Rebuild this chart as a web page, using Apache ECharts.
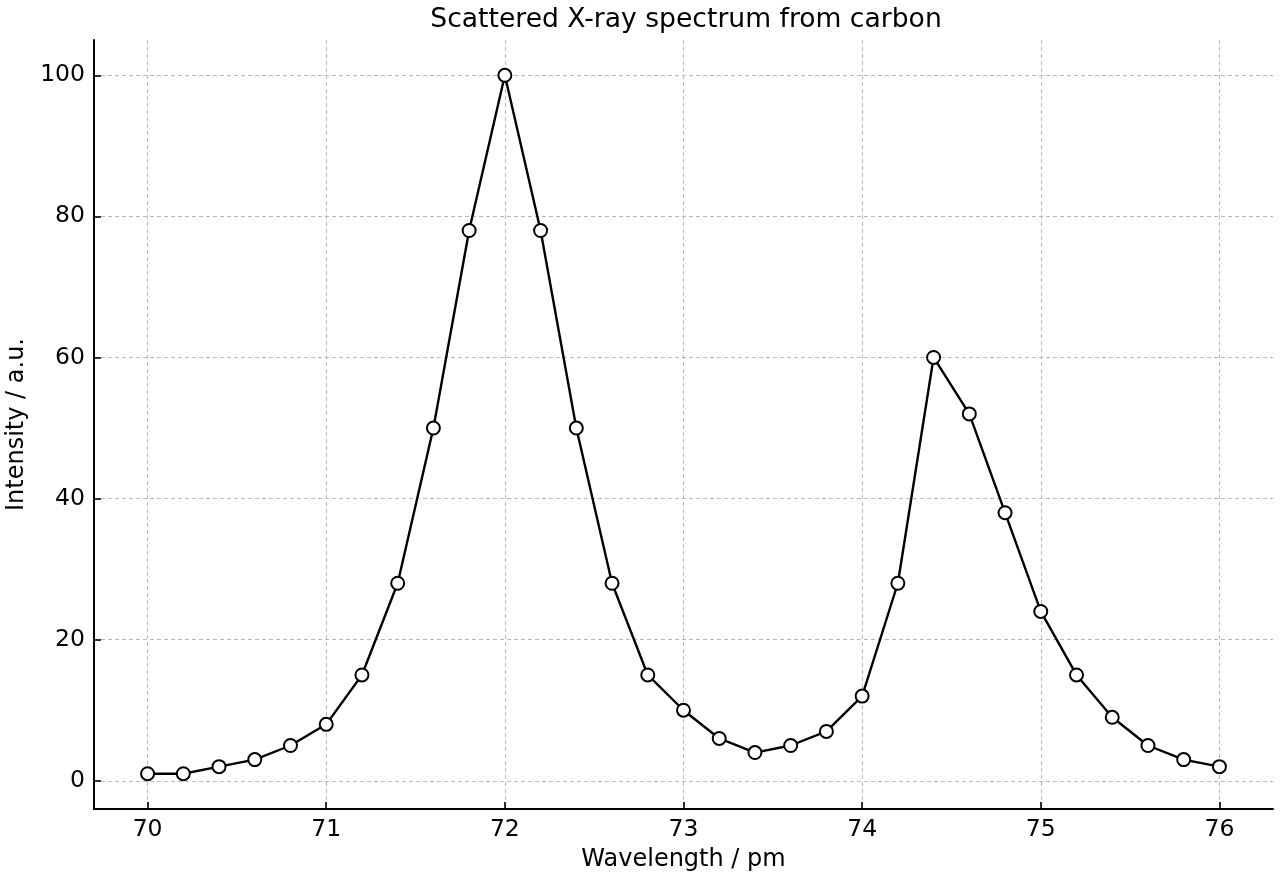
<!DOCTYPE html>
<html>
<head>
<meta charset="utf-8">
<title>Scattered X-ray spectrum from carbon</title>
<script src="https://cdn.jsdelivr.net/npm/echarts@6/dist/echarts.min.js"></script>
<style>
  html, body { margin: 0; padding: 0; background: #fff; }
  #chart { width: 1280px; height: 880px; }
</style>
</head>
<body>
<div id="chart"></div>
<script>
// wavelength (pm) and intensity (a.u.)
const wavelength = [70.0, 70.2, 70.4, 70.6, 70.8, 71.0, 71.2, 71.4, 71.6, 71.8,
  72.0, 72.2, 72.4, 72.6, 72.8, 73.0, 73.2, 73.4, 73.6, 73.8,
  74.0, 74.2, 74.4, 74.6, 74.8, 75.0, 75.2, 75.4, 75.6, 75.8, 76.0];
const intensity = [1, 1, 2, 3, 5, 8, 15, 28, 50, 78,
  100, 78, 50, 28, 15, 10, 6, 4, 5, 7,
  12, 28, 60, 52, 38, 24, 15, 9, 5, 3, 2];
const xTicks = [70, 71, 72, 73, 74, 75, 76];
const yTicks = [0, 20, 40, 60, 80, 100];

const font = 'DejaVu Sans';
const points = wavelength.map((w, i) => [w, intensity[i]]);

const chart = echarts.init(document.getElementById('chart'), null, { renderer: 'canvas' });

const axisCommon = {
  axisLine: { show: true, onZero: false, lineStyle: { color: '#000', width: 2 } },
  axisTick: { show: true, inside: true, length: 7, lineStyle: { color: '#000', width: 1.6 } },
  axisLabel: { color: '#000', fontFamily: font, fontSize: 23.5, margin: 9 },
  splitLine: { show: true, lineStyle: { color: '#b8b8b8', width: 1, type: [4, 3] } },
  nameLocation: 'middle',
  nameTextStyle: { color: '#000', fontFamily: font, fontSize: 24 }
};

chart.setOption({
  backgroundColor: '#fff',
  animation: false,
  title: {
    text: 'Scattered X-ray spectrum from carbon',
    left: 681,
    textAlign: 'center',
    top: 2,
    textStyle: { color: '#000', fontFamily: font, fontSize: 26.6, fontWeight: 'normal' }
  },
  grid: { left: 94, right: 7, top: 40, bottom: 71, containLabel: false, outerBoundsMode: 'none' },
  xAxis: Object.assign({}, axisCommon, {
    type: 'value',
    min: 69.7,
    max: 76.3,
    name: 'Wavelength / pm',
    nameGap: 39,
    axisTick: Object.assign({}, axisCommon.axisTick, { customValues: xTicks }),
    axisLabel: Object.assign({}, axisCommon.axisLabel, { customValues: xTicks })
  }),
  yAxis: Object.assign({}, axisCommon, {
    type: 'value',
    min: -4,
    max: 105,
    name: 'Intensity / a.u.',
    nameGap: 62,
    axisTick: Object.assign({}, axisCommon.axisTick, { customValues: yTicks }),
    axisLabel: Object.assign({}, axisCommon.axisLabel, { customValues: yTicks })
  }),
  series: [{
    type: 'line',
    data: points,
    symbol: 'circle',
    symbolSize: 13,
    showAllSymbol: true,
    lineStyle: { color: '#000', width: 2.4 },
    itemStyle: { color: '#fff', borderColor: '#000', borderWidth: 2 },
    z: 3
  }]
});
</script>
</body>
</html>
